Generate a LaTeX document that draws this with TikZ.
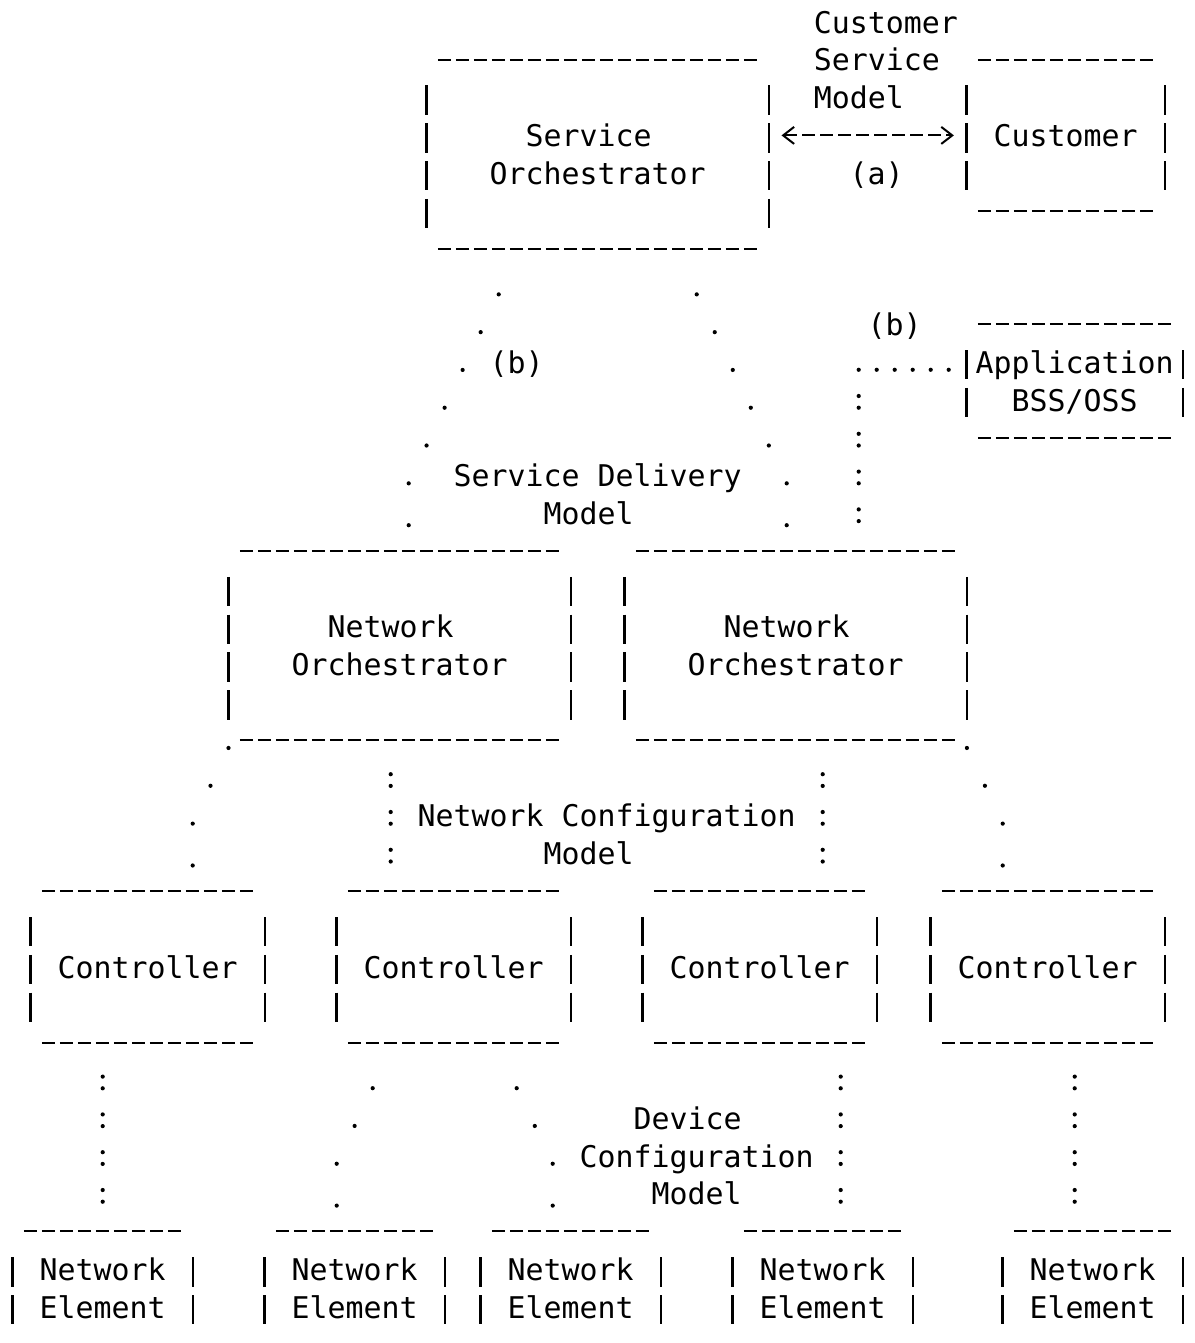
\documentclass[tikz,border=0pt]{standalone}
\usepackage{fontspec}
\setmonofont{DejaVu Sans Mono}
\usetikzlibrary{arrows.meta,calc}
\newcommand{\rs}{\rule[-7.9pt]{0pt}{37.8pt}}

\begin{document}
\begin{tikzpicture}[x=18pt,y=-37.8pt]
      \tikzstyle{txt}=[rectangle,inner sep=0pt,align=center,
        font=\ttfamily\fontsize{29.9pt}{37.8pt}\selectfont]
      \tikzstyle{orch}=[txt,minimum width=342pt,minimum height=189pt]
      \tikzstyle{cust}=[txt,minimum width=198pt,minimum height=151.2pt]
      \tikzstyle{app}=[txt,minimum width=216pt,minimum height=113.4pt]
      \tikzstyle{ctrl}=[txt,minimum width=234pt,minimum height=151.2pt]
      \tikzstyle{ne}=[txt,minimum width=180pt,minimum height=113.4pt]

      \fill[white] (-0.7056,-0.582) rectangle (65.628,34.947);
      \useasboundingbox (-0.7056,-0.582) rectangle (65.628,34.947);

      \node[orch] (SO)   at (32.5,3.5) {\rs Service\hphantom{x}\\Orchestrator\rs};
      \node[cust] (Cust) at (58.5,3)   {\rs Customer};
      \node[app]  (App)  at (59,9.5)   {\rs Application\\BSS/OSS\rs};

      \node[orch] (NO1) at (21.5,16.5) {\rs Network\hphantom{x}\\Orchestrator\rs};
      \node[orch] (NO2) at (43.5,16.5) {\rs Network\hphantom{x}\\Orchestrator\rs};

      \node[ctrl] (C1) at (7.5,25)  {\rs Controller};
      \node[ctrl] (C2) at (24.5,25) {\rs Controller};
      \node[ctrl] (C3) at (41.5,25) {\rs Controller};
      \node[ctrl] (C4) at (57.5,25) {\rs Controller};

      \node[ne] (NE1) at (5,33.5)  {\rs Network\\Element\rs};
      \node[ne] (NE2) at (19,33.5) {\rs Network\\Element\rs};
      \node[ne] (NE3) at (31,33.5) {\rs Network\\Element\rs};
      \node[ne] (NE4) at (45,33.5) {\rs Network\\Element\rs};
      \node[ne] (NE5) at (60,33.5) {\rs Network\\Element\rs};

      \node[txt,anchor=west,align=left] (csm) at (44.5,1) {\rs Customer\\Service\\Model\rs};
      \node[txt] (sdm) at (32.5,12.5) {\rs Service Delivery\\Model\hphantom{x}\rs};
      \node[txt] (ncm) at (33,21.5)   {\rs Network Configuration\\Model\hphantom{xx}\rs};
      \node[txt] (dcm) at (38,30)     {\rs Device\hphantom{x}\\Configuration\\Model\rs};
      \node[txt] (lb1) at (28,9) {\rs (b)};
      \node[txt] (lb2) at (49,8) {\rs (b)};

      \tikzstyle{dashrow}=[line width=2pt,dash pattern=on 13.3pt off 4.7pt]
      \tikzstyle{bar}=[line width=2.2pt,dash pattern=on 29.4pt off 8.4pt]
      \tikzstyle{dots}=[line width=4.2pt,line cap=round,dash pattern=on 0pt off 41.87pt]
      \tikzstyle{dotrow}=[dots,dash pattern=on 0pt off 18pt]
      \tikzstyle{colon}=[line width=4.2pt,line cap=round,
        dash pattern=on 0pt off 11.7pt on 0pt off 26.1pt,dash phase=22.9pt,shorten >=6pt]
      \tikzstyle{biarrow}=[{Straight Barb[length=11pt,width=17pt]}-{Straight Barb[length=11pt,width=17pt]},
        line width=2pt,dash pattern=on 13.3pt off 4.7pt,shorten <=12.6pt,shorten >=12.6pt]

      % ascii box edges
      \foreach \b in {SO,Cust,App,NO1,NO2,C1,C2,C3,C4,NE1,NE2,NE3,NE4,NE5}{
        \draw[dashrow] ([xshift=11.35pt]\b.north west) -- ([xshift=-11.35pt]\b.north east)
                       ([xshift=11.35pt]\b.south west) -- ([xshift=-11.35pt]\b.south east);
        \draw[bar] ([yshift=-25.8pt]\b.north west) -- ([yshift=20.4pt]\b.south west)
                   ([yshift=-25.8pt]\b.north east) -- ([yshift=20.4pt]\b.south east);
      }

      \draw[biarrow] (SO.east |- Cust.west) -- (Cust.west)
           node[txt,midway,xshift=9pt,yshift=-37.8pt] (lba) {\rs (a)};

      \draw[dots] ($(SO.south)+(-5.5,1.2)$) -- ($(NO1.north)+(0.5,-1.8)$) -- ($(NO1.north)+(0.5,0)$);
      \draw[dots] ($(SO.south)+(5.5,1.2)$) -- ($(NO2.north)+(-0.5,-1.8)$) -- ($(NO2.north)+(-0.5,0)$);

      \coordinate (bend) at (47,9.2);
      \draw[dotrow,shorten >=9pt] (bend) -- (bend -| App.west);
      \draw[colon] ($(bend)+(0,0.3)$) -- (bend |- NO2.north);

      \draw[dots] ($(NO1.south west)+(0,0.2)$) -- ($(C1.north)+(2.5,-1.8)$) -- ($(C1.north)+(2.5,0)$);
      \draw[colon] ($(NO1.south)+(-0.5,0.5)$) -- ($(C2.north)+(-3.5,0)$);
      \draw[colon] ($(NO2.south)+(1.5,0.5)$) -- ($(C3.north)+(3.5,0)$);
      \draw[dots] ($(NO2.south east)+(0,0.2)$) -- ($(C4.north)+(-2.5,-1.8)$) -- ($(C4.north)+(-2.5,0)$);

      \draw[colon] ($(C1.south)+(-2.5,0.5)$) -- (NE1.north);
      \draw[dots] ($(C2.south)+(-4.5,1.2)$) -- ($(NE2.north)+(-1,-1.8)$) -- ($(NE2.north)+(-1,0)$);
      \draw[dots] ($(C2.south)+(3.5,1.2)$) -- ($(NE3.north)+(-1,-1.8)$) -- ($(NE3.north)+(-1,0)$);
      \draw[colon] ($(C3.south)+(4.5,0.5)$) -- ($(NE4.north)+(1,0)$);
      \draw[colon] ($(C4.south)+(1.5,0.5)$) -- ($(NE5.north)+(-1,0)$);

\end{tikzpicture}
\end{document}
